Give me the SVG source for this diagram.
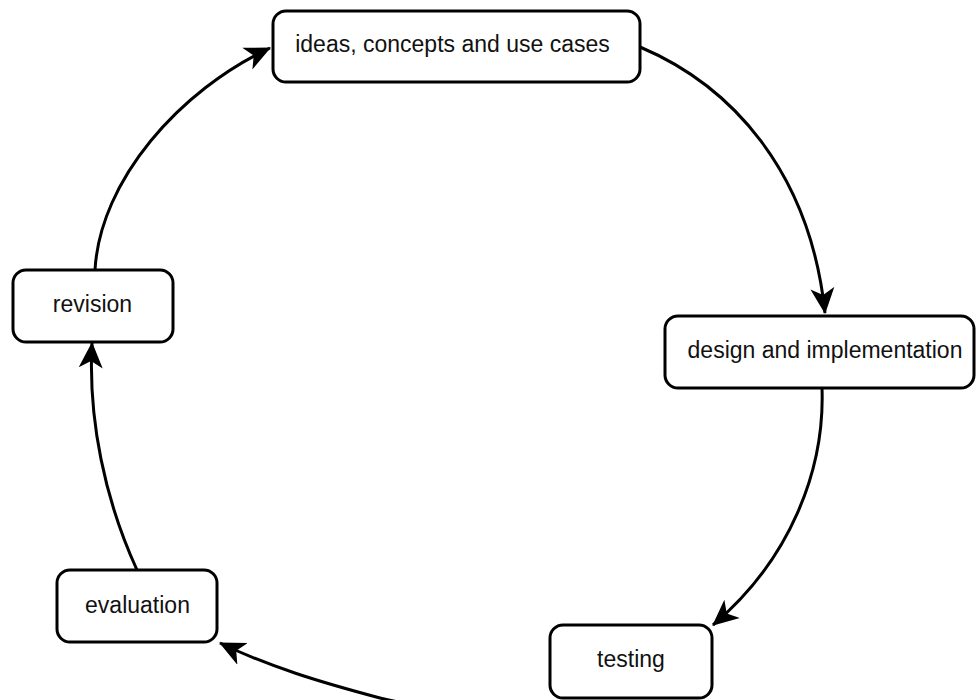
<svg xmlns="http://www.w3.org/2000/svg" width="976" height="700" viewBox="0 0 976 700">
  <style>
    .box { fill: #ffffff; stroke: #000000; stroke-width: 3; }
    .label { font-family: "Liberation Sans", Arial, sans-serif; font-size: 23px; fill: #111111; text-anchor: middle; }
    .edge { fill: none; stroke: #000000; stroke-width: 3; marker-end: url(#arrow); }
  </style>
  <defs>
    <marker id="arrow" markerUnits="userSpaceOnUse" viewBox="0 0 26 26" markerWidth="26" markerHeight="26" refX="25" refY="13" orient="auto">
      <path d="M0,1 L26,13 L0,25 L7,13 Z" fill="#000000"/>
    </marker>
  </defs>
  <rect width="976" height="700" fill="#ffffff"/>

  <!-- cycle connectors -->
  <g id="connectors">
    <path class="edge" d="M640,47 C730,85 810,170 825,313"/>
    <path class="edge" d="M822,388 C825,470 790,560 713,625"/>
    <path class="edge" d="M600,712 C520,712 430,711 380,698 C320,682 270,667 220,643"/>
    <path class="edge" d="M137,570 C105,500 88,420 92,343"/>
    <path class="edge" d="M95,270 C100,180 180,90 270,48"/>
  </g>

  <g id="ideas">
    <rect class="box" x="273" y="11" width="367" height="71" rx="13"/>
    <text class="label" x="452.5" y="52">ideas, concepts and use cases</text>
  </g>
  <g id="design">
    <rect class="box" x="665" y="316" width="309" height="72" rx="13"/>
    <text class="label" x="825" y="358">design and implementation</text>
  </g>
  <g id="testing">
    <rect class="box" x="550" y="625" width="162" height="73" rx="13"/>
    <text class="label" x="631" y="667">testing</text>
  </g>
  <g id="evaluation">
    <rect class="box" x="57" y="570" width="160" height="72" rx="13"/>
    <text class="label" x="137.5" y="613">evaluation</text>
  </g>
  <g id="revision">
    <rect class="box" x="13" y="270" width="160" height="72" rx="13"/>
    <text class="label" x="92.5" y="312">revision</text>
  </g>
</svg>
